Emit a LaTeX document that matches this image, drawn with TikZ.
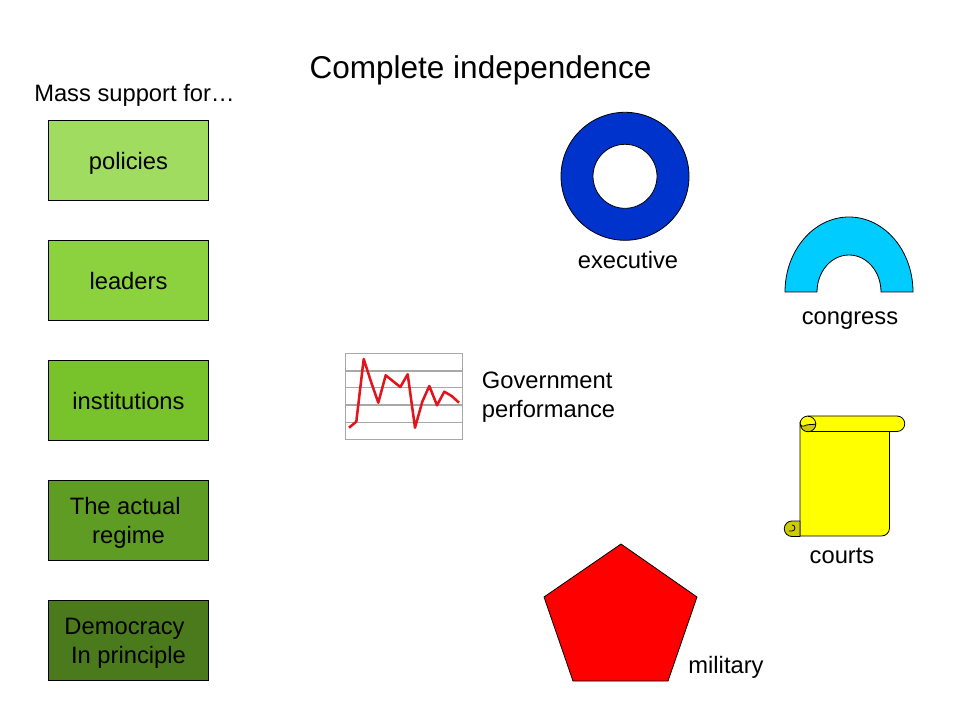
\documentclass[tikz,border=0pt]{standalone}
\usepackage{fontspec}
\setmainfont{Liberation Sans}
\usetikzlibrary{calc}
\usepackage{xcolor}

\definecolor{boxa}{HTML}{9FDC60}
\definecolor{boxb}{HTML}{8CD23E}
\definecolor{boxc}{HTML}{78C22C}
\definecolor{boxd}{HTML}{5F9C24}
\definecolor{boxe}{HTML}{4B7A1C}
\definecolor{ringblue}{HTML}{0033CC}
\definecolor{archblue}{HTML}{00CCFF}
\definecolor{scrollyellow}{HTML}{FFFF00}
\definecolor{rolldark}{HTML}{CCCC00}
\definecolor{gridgray}{HTML}{A8A8A8}
\definecolor{linered}{HTML}{E2141C}

\tikzset{
  levelbox/.style={draw=black,line width=0.7pt,minimum width=120pt,minimum height=60pt,inner sep=0pt,align=center,font=\fontsize{17.8}{21.75}\selectfont},
  caption/.style={inner sep=0pt,align=left,font=\fontsize{17.8}{21.75}\selectfont},
  solid shape/.style={draw=black,line width=0.6pt}
}

\begin{document}
\begin{tikzpicture}[x=0.75pt,y=-0.75pt]
      \useasboundingbox[fill=white] (0,0) rectangle (960,720);

      % Title
      \node[inner sep=0pt,font=\fontsize{23.65}{28}\selectfont] (title) at (480.5,70) {Complete independence};
      \node[caption] (mass) at (134.5,95) {Mass support for…};

      % Left column
      \foreach \name/\y/\col/\txt in {policies/160.5/boxa/policies,leaders/280.5/boxb/leaders,institutions/400.5/boxc/institutions}
      {
        \node[levelbox,fill=\col,text height=12.8pt,text depth=0pt] (\name) at (128.5,\y) {\txt};
      }
      \node[levelbox,fill=boxd] (regime) at (128.5,520.5) {\rule{0pt}{17pt}The actual\hspace*{5pt}\\regime};
      \node[levelbox,fill=boxe] (principle) at (128.5,640.5) {\rule{0pt}{17pt}Democracy\hspace*{6pt}\\In principle};

      % Executive
      \draw[solid shape,fill=ringblue] (625,176.3) circle (64);
      \draw[solid shape,fill=white] (625,176.3) circle (32);
      \node[caption] (executive) at (628,260) {executive};

      % Congress
      \draw[solid shape,fill=archblue] (785,292) arc[start angle=180,end angle=360,x radius=64,y radius=75] -- (881,292) arc[start angle=360,end angle=180,x radius=32,y radius=37] -- cycle;
      \node[caption] (congress) at (850,321) {congress};

      % Courts
      \draw[solid shape,fill=scrollyellow] (800,424) arc[start angle=180,end angle=270,radius=8] -- (897,416) arc[start angle=-90,end angle=90,radius=7.75] -- (889.5,431.5) -- (889.5,528) arc[start angle=0,end angle=90,radius=8] -- (800,536) -- cycle;
      \draw[solid shape] (808,431.5) -- (889.5,431.5);
      \draw[solid shape,fill=rolldark] (800.3,424) arc[start angle=180,end angle=0,radius=7.75] .. controls (812,425) and (807,424) .. (804,426) .. controls (802,427) and (801,426) .. cycle;
      \draw[solid shape] (815.75,424) arc[start angle=0,end angle=-90,radius=7.75];
      \draw[solid shape,fill=rolldark] (800,521) -- (792,521) arc[start angle=-90,end angle=-270,radius=7.75] -- (800,536.5) -- cycle;
      \draw[solid shape] (792,525) arc[start angle=-90,end angle=90,radius=3] -- (789,531);
      \node[caption] (courts) at (842,556) {courts};

      % Military
      \draw[solid shape,fill=red] (621,544) -- (697,597) -- (668,681) -- (573,681) -- (544,597) -- cycle;
      \node[caption] (military) at (726,667) {military};

      % Performance chart
      \draw[gridgray,line width=1.1pt] (345.5,353.3) rectangle (462.5,439.3);
      \foreach \y in {371,387.7,405,422.3}
      {
        \draw[gridgray,line width=1.1pt] (345.5,\y) -- (462.5,\y);
      }
      \draw[linered,line width=1.9pt,line join=round] (349,427.7) -- (356.3,421.7) -- (363.7,359) -- (371,381.7) -- (378.3,402.7) -- (385.7,375.3) -- (400.3,387) -- (407.7,374.3) -- (415,427.7) -- (422.3,401.7) -- (429.3,386) -- (437,405.3) -- (444.3,391.7) -- (451.7,396) -- (459,402.7);
      \node[caption] (performance) at (548.5,397.5) {Government\\performance};
\end{tikzpicture}
\end{document}
